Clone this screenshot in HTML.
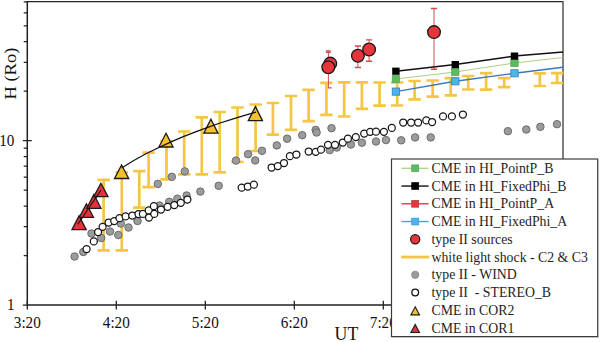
<!DOCTYPE html>
<html><head><meta charset="utf-8"><style>
html,body{margin:0;padding:0;background:#fff;width:600px;height:342px;overflow:hidden;position:relative}
</style></head><body>
<svg width="600" height="342" viewBox="0 0 600 342" style="position:absolute;left:0;top:0">
<path d="M27.3 1.6H563" stroke="#262626" stroke-width="1.3" fill="none"/>
<path d="M563 1.0V305.1" stroke="#555" stroke-width="1.5" fill="none"/>
<path d="M27.3 1.0V305.1H563.7" stroke="#222" stroke-width="1.5" fill="none"/>
<path d="M23.7 255.6H27.3 M23.7 226.7H27.3 M23.7 206.1H27.3 M23.7 190.2H27.3 M23.7 177.2H27.3 M23.7 166.2H27.3 M23.7 156.6H27.3 M23.7 148.2H27.3 M23.7 91.2H27.3 M23.7 62.3H27.3 M23.7 41.7H27.3 M23.7 25.8H27.3 M23.7 12.8H27.3 M23.7 1.8H27.3 M22.8 140.7H31.8 M22.8 305.1H27.3 M27.3 300.8V309.5 M116.3 300.8V309.5 M205.3 300.8V309.5 M294.3 300.8V309.5 M383.3 300.8V309.5 M472.3 300.8V309.5" stroke="#222" stroke-width="1.3" fill="none"/>
<path d="M103.6 179.9V250.3M97.39999999999999 179.9h12.4M97.39999999999999 250.3h12.4M121.8 172.4V250.3M115.6 172.4h12.4M115.6 250.3h12.4M139.3 171.1V207.6M133.10000000000002 171.1h12.4M133.10000000000002 207.6h12.4M148.6 152.6V187.2M142.4 152.6h12.4M142.4 187.2h12.4M166.5 141V179.3M160.3 141h12.4M160.3 179.3h12.4M184.2 131.5V174.4M178.0 131.5h12.4M178.0 174.4h12.4M201.8 117.3V174.4M195.60000000000002 117.3h12.4M195.60000000000002 174.4h12.4M219.7 112V172.3M213.5 112h12.4M213.5 172.3h12.4M237.5 107.5V162M231.3 107.5h12.4M231.3 162h12.4M255.6 104.5V151M249.4 104.5h12.4M249.4 151h12.4M272.9 103V134.6M266.7 103h12.4M266.7 134.6h12.4M291 96V129.9M284.8 96h12.4M284.8 129.9h12.4M308.6 89.8V121.2M302.40000000000003 89.8h12.4M302.40000000000003 121.2h12.4M326.4 82.8V114.8M320.2 82.8h12.4M320.2 114.8h12.4M344.2 82.3V116.5M338.0 82.3h12.4M338.0 116.5h12.4M361.9 82.4V108.9M355.7 82.4h12.4M355.7 108.9h12.4M379.6 82.5V105.7M373.40000000000003 82.5h12.4M373.40000000000003 105.7h12.4M397.2 82.5V105.5M391.0 82.5h12.4M391.0 105.5h12.4M414.6 81V99.3M408.40000000000003 81h12.4M408.40000000000003 99.3h12.4M432.7 80.5V96.7M426.5 80.5h12.4M426.5 96.7h12.4M450.7 78.2V95.4M444.5 78.2h12.4M444.5 95.4h12.4M468.2 76V89.5M462.0 76h12.4M462.0 89.5h12.4M486.1 73.2V89.6M479.90000000000003 73.2h12.4M479.90000000000003 89.6h12.4M504.2 78.2V87.1M498.0 78.2h12.4M498.0 87.1h12.4M539.8 73.3V86M533.5999999999999 73.3h12.4M533.5999999999999 86h12.4M557.1 73.1V83M550.9 73.1h12.4M550.9 83h12.4" stroke="#F5C544" stroke-width="2.7" fill="none"/>
<circle cx="74.6" cy="256.5" r="3.75" fill="#9b9b9b" stroke="#6c6c6c" stroke-width="1.0"/>
<circle cx="83.3" cy="252" r="3.75" fill="#9b9b9b" stroke="#6c6c6c" stroke-width="1.0"/>
<circle cx="91.5" cy="233.5" r="3.75" fill="#9b9b9b" stroke="#6c6c6c" stroke-width="1.0"/>
<circle cx="101.2" cy="238" r="3.75" fill="#9b9b9b" stroke="#6c6c6c" stroke-width="1.0"/>
<circle cx="110" cy="231.5" r="3.75" fill="#9b9b9b" stroke="#6c6c6c" stroke-width="1.0"/>
<circle cx="118.3" cy="235" r="3.75" fill="#9b9b9b" stroke="#6c6c6c" stroke-width="1.0"/>
<circle cx="120.8" cy="223.5" r="3.75" fill="#9b9b9b" stroke="#6c6c6c" stroke-width="1.0"/>
<circle cx="128.5" cy="227.5" r="3.75" fill="#9b9b9b" stroke="#6c6c6c" stroke-width="1.0"/>
<circle cx="137.5" cy="221" r="3.75" fill="#9b9b9b" stroke="#6c6c6c" stroke-width="1.0"/>
<circle cx="157.8" cy="183.9" r="3.75" fill="#9b9b9b" stroke="#6c6c6c" stroke-width="1.0"/>
<circle cx="159.6" cy="205.5" r="3.75" fill="#9b9b9b" stroke="#6c6c6c" stroke-width="1.0"/>
<circle cx="171.8" cy="176.8" r="3.75" fill="#9b9b9b" stroke="#6c6c6c" stroke-width="1.0"/>
<circle cx="169.2" cy="201.8" r="3.75" fill="#9b9b9b" stroke="#6c6c6c" stroke-width="1.0"/>
<circle cx="177.3" cy="198.7" r="3.75" fill="#9b9b9b" stroke="#6c6c6c" stroke-width="1.0"/>
<circle cx="184.8" cy="171.4" r="3.75" fill="#9b9b9b" stroke="#6c6c6c" stroke-width="1.0"/>
<circle cx="186.6" cy="195.5" r="3.75" fill="#9b9b9b" stroke="#6c6c6c" stroke-width="1.0"/>
<circle cx="200.4" cy="191.6" r="3.75" fill="#9b9b9b" stroke="#6c6c6c" stroke-width="1.0"/>
<circle cx="218.7" cy="185.8" r="3.75" fill="#9b9b9b" stroke="#6c6c6c" stroke-width="1.0"/>
<circle cx="236" cy="160.6" r="3.75" fill="#9b9b9b" stroke="#6c6c6c" stroke-width="1.0"/>
<circle cx="248" cy="154.2" r="3.75" fill="#9b9b9b" stroke="#6c6c6c" stroke-width="1.0"/>
<circle cx="255.2" cy="160.4" r="3.75" fill="#9b9b9b" stroke="#6c6c6c" stroke-width="1.0"/>
<circle cx="262" cy="150.8" r="3.75" fill="#9b9b9b" stroke="#6c6c6c" stroke-width="1.0"/>
<circle cx="276.8" cy="145.4" r="3.75" fill="#9b9b9b" stroke="#6c6c6c" stroke-width="1.0"/>
<circle cx="287.1" cy="138.7" r="3.75" fill="#9b9b9b" stroke="#6c6c6c" stroke-width="1.0"/>
<circle cx="302.2" cy="135.2" r="3.75" fill="#9b9b9b" stroke="#6c6c6c" stroke-width="1.0"/>
<circle cx="315.7" cy="129.9" r="3.75" fill="#9b9b9b" stroke="#6c6c6c" stroke-width="1.0"/>
<circle cx="316.6" cy="132.5" r="3.75" fill="#9b9b9b" stroke="#6c6c6c" stroke-width="1.0"/>
<circle cx="331.5" cy="128.2" r="3.75" fill="#9b9b9b" stroke="#6c6c6c" stroke-width="1.0"/>
<circle cx="329.7" cy="150.1" r="3.75" fill="#9b9b9b" stroke="#6c6c6c" stroke-width="1.0"/>
<circle cx="336.8" cy="147.5" r="3.75" fill="#9b9b9b" stroke="#6c6c6c" stroke-width="1.0"/>
<circle cx="350.9" cy="144.5" r="3.75" fill="#9b9b9b" stroke="#6c6c6c" stroke-width="1.0"/>
<circle cx="361.9" cy="142.7" r="3.75" fill="#9b9b9b" stroke="#6c6c6c" stroke-width="1.0"/>
<circle cx="376" cy="141.5" r="3.75" fill="#9b9b9b" stroke="#6c6c6c" stroke-width="1.0"/>
<circle cx="386" cy="140.1" r="3.75" fill="#9b9b9b" stroke="#6c6c6c" stroke-width="1.0"/>
<circle cx="401.2" cy="140.3" r="3.75" fill="#9b9b9b" stroke="#6c6c6c" stroke-width="1.0"/>
<circle cx="415.1" cy="137.4" r="3.75" fill="#9b9b9b" stroke="#6c6c6c" stroke-width="1.0"/>
<circle cx="430.7" cy="137.4" r="3.75" fill="#9b9b9b" stroke="#6c6c6c" stroke-width="1.0"/>
<circle cx="507.9" cy="131.2" r="3.75" fill="#9b9b9b" stroke="#6c6c6c" stroke-width="1.0"/>
<circle cx="526.3" cy="129.5" r="3.75" fill="#9b9b9b" stroke="#6c6c6c" stroke-width="1.0"/>
<circle cx="540.4" cy="126.8" r="3.75" fill="#9b9b9b" stroke="#6c6c6c" stroke-width="1.0"/>
<circle cx="557" cy="124.2" r="3.75" fill="#9b9b9b" stroke="#6c6c6c" stroke-width="1.0"/>
<circle cx="86.6" cy="249.1" r="3.5" fill="#fff" stroke="#161616" stroke-width="1.25"/>
<circle cx="93.8" cy="241.4" r="3.5" fill="#fff" stroke="#161616" stroke-width="1.25"/>
<circle cx="98.1" cy="232" r="3.5" fill="#fff" stroke="#161616" stroke-width="1.25"/>
<circle cx="102.6" cy="226.8" r="3.5" fill="#fff" stroke="#161616" stroke-width="1.25"/>
<circle cx="108.6" cy="222.5" r="3.5" fill="#fff" stroke="#161616" stroke-width="1.25"/>
<circle cx="114.2" cy="221.1" r="3.5" fill="#fff" stroke="#161616" stroke-width="1.25"/>
<circle cx="119.5" cy="218.2" r="3.5" fill="#fff" stroke="#161616" stroke-width="1.25"/>
<circle cx="125.6" cy="216.4" r="3.5" fill="#fff" stroke="#161616" stroke-width="1.25"/>
<circle cx="132.3" cy="215.5" r="3.5" fill="#fff" stroke="#161616" stroke-width="1.25"/>
<circle cx="138.5" cy="214" r="3.5" fill="#fff" stroke="#161616" stroke-width="1.25"/>
<circle cx="142.9" cy="213.9" r="3.5" fill="#fff" stroke="#161616" stroke-width="1.25"/>
<circle cx="148.7" cy="210.4" r="3.5" fill="#fff" stroke="#161616" stroke-width="1.25"/>
<circle cx="149" cy="217.5" r="3.5" fill="#fff" stroke="#161616" stroke-width="1.25"/>
<circle cx="153.9" cy="206.2" r="3.5" fill="#fff" stroke="#161616" stroke-width="1.25"/>
<circle cx="154.3" cy="213.9" r="3.5" fill="#fff" stroke="#161616" stroke-width="1.25"/>
<circle cx="161" cy="209.6" r="3.5" fill="#fff" stroke="#161616" stroke-width="1.25"/>
<circle cx="167.6" cy="206.8" r="3.5" fill="#fff" stroke="#161616" stroke-width="1.25"/>
<circle cx="174.3" cy="205" r="3.5" fill="#fff" stroke="#161616" stroke-width="1.25"/>
<circle cx="180.8" cy="202.8" r="3.5" fill="#fff" stroke="#161616" stroke-width="1.25"/>
<circle cx="187.4" cy="199.5" r="3.5" fill="#fff" stroke="#161616" stroke-width="1.25"/>
<circle cx="241.7" cy="187.7" r="3.5" fill="#fff" stroke="#161616" stroke-width="1.25"/>
<circle cx="247.8" cy="186.5" r="3.5" fill="#fff" stroke="#161616" stroke-width="1.25"/>
<circle cx="253.9" cy="184.7" r="3.5" fill="#fff" stroke="#161616" stroke-width="1.25"/>
<circle cx="271.6" cy="167.5" r="3.5" fill="#fff" stroke="#161616" stroke-width="1.25"/>
<circle cx="277.8" cy="166.1" r="3.5" fill="#fff" stroke="#161616" stroke-width="1.25"/>
<circle cx="284" cy="163" r="3.5" fill="#fff" stroke="#161616" stroke-width="1.25"/>
<circle cx="289.9" cy="156.2" r="3.5" fill="#fff" stroke="#161616" stroke-width="1.25"/>
<circle cx="296.4" cy="154.5" r="3.5" fill="#fff" stroke="#161616" stroke-width="1.25"/>
<circle cx="308.7" cy="151.5" r="3.5" fill="#fff" stroke="#161616" stroke-width="1.25"/>
<circle cx="315.7" cy="151.8" r="3.5" fill="#fff" stroke="#161616" stroke-width="1.25"/>
<circle cx="321" cy="149.7" r="3.5" fill="#fff" stroke="#161616" stroke-width="1.25"/>
<circle cx="328" cy="144.8" r="3.5" fill="#fff" stroke="#161616" stroke-width="1.25"/>
<circle cx="335" cy="144.8" r="3.5" fill="#fff" stroke="#161616" stroke-width="1.25"/>
<circle cx="342.8" cy="142.5" r="3.5" fill="#fff" stroke="#161616" stroke-width="1.25"/>
<circle cx="347.9" cy="138.7" r="3.5" fill="#fff" stroke="#161616" stroke-width="1.25"/>
<circle cx="355.8" cy="137.1" r="3.5" fill="#fff" stroke="#161616" stroke-width="1.25"/>
<circle cx="364.2" cy="133.6" r="3.5" fill="#fff" stroke="#161616" stroke-width="1.25"/>
<circle cx="370.2" cy="131.8" r="3.5" fill="#fff" stroke="#161616" stroke-width="1.25"/>
<circle cx="376" cy="131.7" r="3.5" fill="#fff" stroke="#161616" stroke-width="1.25"/>
<circle cx="383.9" cy="131.8" r="3.5" fill="#fff" stroke="#161616" stroke-width="1.25"/>
<circle cx="391.8" cy="127.9" r="3.5" fill="#fff" stroke="#161616" stroke-width="1.25"/>
<circle cx="403.2" cy="122.5" r="3.5" fill="#fff" stroke="#161616" stroke-width="1.25"/>
<circle cx="411.1" cy="122.5" r="3.5" fill="#fff" stroke="#161616" stroke-width="1.25"/>
<circle cx="418.1" cy="122.5" r="3.5" fill="#fff" stroke="#161616" stroke-width="1.25"/>
<circle cx="426.3" cy="120.4" r="3.5" fill="#fff" stroke="#161616" stroke-width="1.25"/>
<circle cx="432.1" cy="122" r="3.5" fill="#fff" stroke="#161616" stroke-width="1.25"/>
<circle cx="443" cy="116.4" r="3.5" fill="#fff" stroke="#161616" stroke-width="1.25"/>
<circle cx="451.9" cy="116.4" r="3.5" fill="#fff" stroke="#161616" stroke-width="1.25"/>
<circle cx="462.9" cy="114.5" r="3.5" fill="#fff" stroke="#161616" stroke-width="1.25"/>
<path d="M77.8 224.2L100.9 190.3" stroke="#111" stroke-width="1.2" fill="none"/>
<path d="M79.1 215.7L86.19999999999999 229.6H72.0Z" fill="#E3333A" stroke="#1a1a1a" stroke-width="1.3" stroke-linejoin="miter"/>
<path d="M86.4 203.8L93.5 217.3H79.30000000000001Z" fill="#E3333A" stroke="#1a1a1a" stroke-width="1.3" stroke-linejoin="miter"/>
<path d="M93.9 194.5L101.0 208.3H86.80000000000001Z" fill="#E3333A" stroke="#1a1a1a" stroke-width="1.3" stroke-linejoin="miter"/>
<path d="M100.9 183.3L108.0 196.6H93.80000000000001Z" fill="#E3333A" stroke="#1a1a1a" stroke-width="1.3" stroke-linejoin="miter"/>
<path d="M77.8 224.2L100.9 190.3" stroke="#111" stroke-width="1.1" fill="none"/>
<path d="M121.6 165L128.7 178.5H114.5Z" fill="#F5C02E" stroke="#1a1a1a" stroke-width="1.3"/>
<path d="M166 133.3L173.1 147H158.9Z" fill="#F5C02E" stroke="#1a1a1a" stroke-width="1.3"/>
<path d="M210.9 119.2L218.0 133.2H203.8Z" fill="#F5C02E" stroke="#1a1a1a" stroke-width="1.3"/>
<path d="M255.4 106.6L262.5 120.6H248.3Z" fill="#F5C02E" stroke="#1a1a1a" stroke-width="1.3"/>
<path d="M121.6 167.9L133.8 160.5L146 153.8L158.3 147.7L170.5 142.1L182.7 136.9L194.9 132.1L207.1 127.6L219.3 123.3L231.6 119.4L243.8 115.6L256 112.1" stroke="#111" stroke-width="1.2" fill="none" stroke-linejoin="round"/>
<path d="M328.4 50.8V88" stroke="#D24A4E" stroke-width="1.0" fill="none"/><path d="M325.8 50.9h5M325.8 52.4h5M327.9 87.9h3.8" stroke="#D24A4E" stroke-width="1.1" fill="none"/>
<path d="M357.9 46V67.5" stroke="#D24A4E" stroke-width="1.0" fill="none"/><path d="M354.79999999999995 46h6.2M354.79999999999995 67.5h6.2" stroke="#D24A4E" stroke-width="1.4" fill="none"/>
<path d="M369.1 39.9V61.2" stroke="#D24A4E" stroke-width="1.0" fill="none"/><path d="M366.0 39.9h6.2M366.0 61.2h6.2" stroke="#D24A4E" stroke-width="1.4" fill="none"/>
<path d="M434 8.5V69.2" stroke="#D24A4E" stroke-width="1.0" fill="none"/><path d="M430.9 8.5h6.2M430.9 69.2h6.2" stroke="#D24A4E" stroke-width="1.4" fill="none"/>
<circle cx="330.3" cy="63.6" r="6.35" fill="#E6353B" stroke="#1a1a1a" stroke-width="1.3"/>
<circle cx="328.3" cy="67.3" r="6.35" fill="#E6353B" stroke="#1a1a1a" stroke-width="1.3"/>
<circle cx="357.9" cy="55.8" r="6.35" fill="#E6353B" stroke="#1a1a1a" stroke-width="1.3"/>
<circle cx="369.1" cy="49.5" r="6.35" fill="#E6353B" stroke="#1a1a1a" stroke-width="1.3"/>
<circle cx="434" cy="32.1" r="6.35" fill="#E6353B" stroke="#1a1a1a" stroke-width="1.3"/>
<path d="M395.9 79 L455.3 72 L514.5 63 L563 57.5" stroke="#A8CC7A" stroke-width="0.95" fill="none"/>
<path d="M395.9 91.6 L455.3 81.3 L514.5 73.3 L563 67.2" stroke="#3878BC" stroke-width="1.4" fill="none"/>
<path d="M395.9 71.2 L455.3 64.6 L514.5 56.1 L563 51.9" stroke="#111" stroke-width="1.5" fill="none"/>
<rect x="392.2" y="75.4" width="7.4" height="7.2" fill="#5DBB5F" stroke="#4a9a4a" stroke-width="0.6"/>
<rect x="392.2" y="88.0" width="7.4" height="7.2" fill="#4CB5E8" stroke="#3A7DC2" stroke-width="0.8"/>
<rect x="392.2" y="67.60000000000001" width="7.4" height="7.2" fill="#000"/>
<rect x="451.6" y="68.4" width="7.4" height="7.2" fill="#5DBB5F" stroke="#4a9a4a" stroke-width="0.6"/>
<rect x="451.6" y="77.7" width="7.4" height="7.2" fill="#4CB5E8" stroke="#3A7DC2" stroke-width="0.8"/>
<rect x="451.6" y="60.99999999999999" width="7.4" height="7.2" fill="#000"/>
<rect x="510.8" y="59.4" width="7.4" height="7.2" fill="#5DBB5F" stroke="#4a9a4a" stroke-width="0.6"/>
<rect x="510.8" y="69.7" width="7.4" height="7.2" fill="#4CB5E8" stroke="#3A7DC2" stroke-width="0.8"/>
<rect x="510.8" y="52.5" width="7.4" height="7.2" fill="#000"/>
<text transform="translate(27.3 328.4) scale(1 1.08)" text-anchor="middle" font-family="Liberation Serif" font-size="15.2" fill="#111">3:20</text>
<text transform="translate(116.3 328.4) scale(1 1.08)" text-anchor="middle" font-family="Liberation Serif" font-size="15.2" fill="#111">4:20</text>
<text transform="translate(205.3 328.4) scale(1 1.08)" text-anchor="middle" font-family="Liberation Serif" font-size="15.2" fill="#111">5:20</text>
<text transform="translate(294.3 328.4) scale(1 1.08)" text-anchor="middle" font-family="Liberation Serif" font-size="15.2" fill="#111">6:20</text>
<text transform="translate(383.3 328.4) scale(1 1.08)" text-anchor="middle" font-family="Liberation Serif" font-size="15.2" fill="#111">7:20</text>
<text transform="translate(6.8 145.79999999999998) scale(1 1.08)" text-anchor="middle" font-family="Liberation Serif" font-size="15.2" fill="#111">10</text>
<text transform="translate(10.8 310.40000000000003) scale(1 1.08)" text-anchor="middle" font-family="Liberation Serif" font-size="15.2" fill="#111">1</text>
<text x="346.4" y="340" text-anchor="middle" font-family="Liberation Serif" font-size="17.8" fill="#111">UT</text>
<text transform="translate(15.6 73.6) rotate(-90) scale(1.1 1)" text-anchor="middle" font-family="Liberation Serif" font-size="16.8" fill="#111">H (Ro)</text>
<rect x="391.5" y="159.0" width="206.20000000000005" height="177.60000000000002" fill="#fff" stroke="#3c3c3c" stroke-width="1.2"/>
<path d="M392.5 337.5H598.6V160.0" stroke="#bbb" stroke-width="0.8" fill="none"/>
<path d="M401.5 168.3H428.6" stroke="#B3D58A" stroke-width="1.4"/>
<rect x="411.7" y="164.9" width="7" height="6.8" fill="#5DBB5F" stroke="#56a858" stroke-width="0.7"/>
<path d="M401.5 186.05H428.6" stroke="#111" stroke-width="1.4"/>
<rect x="411.7" y="182.65" width="7" height="6.8" fill="#000" stroke="#000" stroke-width="0.7"/>
<path d="M401.5 203.8H428.6" stroke="#C9474B" stroke-width="1.4"/>
<rect x="411.7" y="200.4" width="7" height="6.8" fill="#E8343C" stroke="#b83236" stroke-width="0.7"/>
<path d="M401.5 221.55H428.6" stroke="#3DA5DC" stroke-width="1.4"/>
<rect x="411.7" y="218.15" width="7" height="6.8" fill="#4CB5E8" stroke="#3d95cc" stroke-width="0.7"/>
<circle cx="415.2" cy="239.3" r="4.6" fill="#E6353B" stroke="#1a1a1a" stroke-width="1.2"/>
<path d="M401.1 257.05H429.20000000000005" stroke="#F5C544" stroke-width="2.8"/>
<circle cx="415.2" cy="274.8" r="3.6" fill="#9a9a9a" stroke="#808080" stroke-width="0.8"/>
<circle cx="415.2" cy="292.55" r="3.35" fill="#fff" stroke="#111" stroke-width="1.3"/>
<path d="M415.2 306.8L419.5 314.90000000000003H410.9Z" fill="#F5C02E" stroke="#1a1a1a" stroke-width="1.1"/>
<path d="M415.2 324.45L419.5 332.55H410.9Z" fill="#E3333A" stroke="#1a1a1a" stroke-width="1.1"/>
<text x="431.5" y="172.9" font-family="Liberation Serif" font-size="13.8" fill="#1e1e1e" xml:space="preserve">CME in HI_PointP_B</text>
<text x="431.5" y="190.7" font-family="Liberation Serif" font-size="13.8" fill="#1e1e1e" xml:space="preserve">CME in HI_FixedPhi_B</text>
<text x="431.5" y="208.4" font-family="Liberation Serif" font-size="13.8" fill="#1e1e1e" xml:space="preserve">CME in HI_PointP_A</text>
<text x="431.5" y="226.2" font-family="Liberation Serif" font-size="13.8" fill="#1e1e1e" xml:space="preserve">CME in HI_FixedPhi_A</text>
<text x="431.5" y="243.9" font-family="Liberation Serif" font-size="13.8" fill="#1e1e1e" xml:space="preserve">type II sources</text>
<text x="431.5" y="261.7" font-family="Liberation Serif" font-size="13.8" fill="#1e1e1e" xml:space="preserve">white light shock - C2 &amp; C3</text>
<text x="431.5" y="279.4" font-family="Liberation Serif" font-size="13.8" fill="#1e1e1e" xml:space="preserve">type II - WIND</text>
<text x="431.5" y="297.2" font-family="Liberation Serif" font-size="13.8" fill="#1e1e1e" xml:space="preserve">type II  - STEREO_B</text>
<text x="431.5" y="314.9" font-family="Liberation Serif" font-size="13.8" fill="#1e1e1e" xml:space="preserve">CME in COR2</text>
<text x="431.5" y="332.7" font-family="Liberation Serif" font-size="13.8" fill="#1e1e1e" xml:space="preserve">CME in COR1</text>
</svg>
</body></html>
